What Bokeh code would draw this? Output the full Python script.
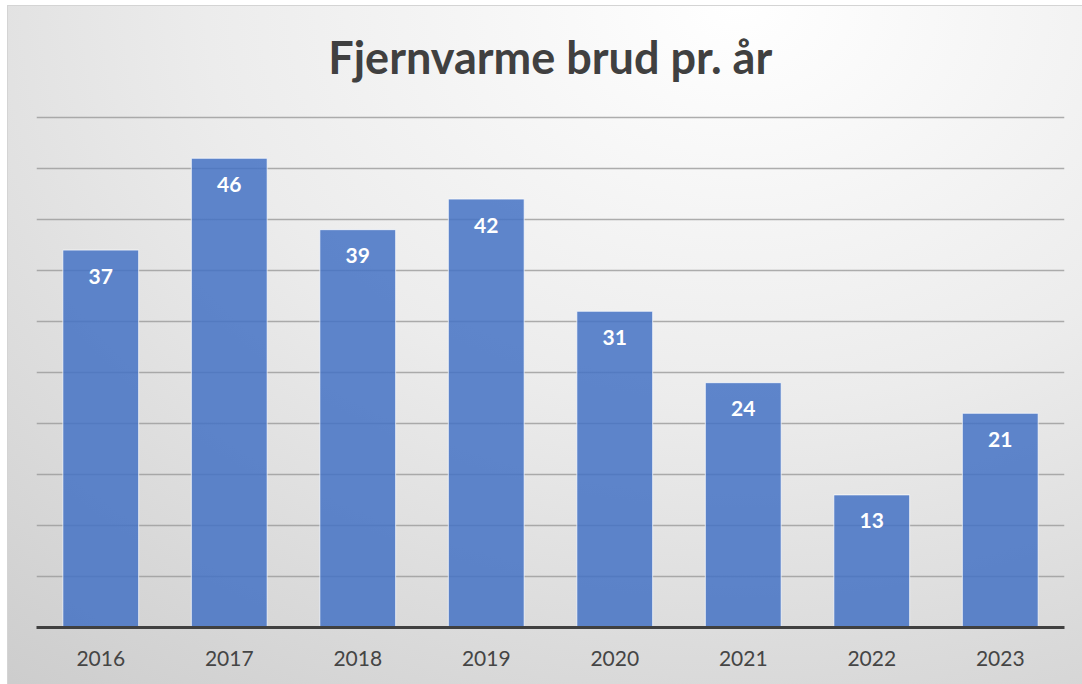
from bokeh.plotting import figure
from bokeh.models import FactorRange, Range1d, FixedTicker, ColumnDataSource
from bokeh.core.properties import value
from bokeh.embed import file_html
from bokeh.resources import INLINE

years = ["2016", "2017", "2018", "2019", "2020", "2021", "2022", "2023"]
breaks = [37, 46, 39, 42, 31, 24, 13, 21]
title_text = "Fjernvarme brud pr. år"
grid_ticks = [5, 10, 15, 20, 25, 30, 35, 40, 45, 50]

src = ColumnDataSource(dict(x=years, top=breaks, label=[str(v) for v in breaks]))

p = figure(width=1075, height=679, output_backend="svg", toolbar_location=None,
           x_range=FactorRange(*years, range_padding=0),
           y_range=Range1d(0, 60.88),
           min_border_left=28, min_border_right=19, min_border_top=0, min_border_bottom=58)

p.styles = {"background": "radial-gradient(ellipse 110% 130% at 68% 0%, #ffffff 0%, #ececec 45%, #cccccc 100%)",
            "margin-left": "7px", "margin-top": "5px",
            "border-top": "1px solid #d4d4d4", "border-left": "1px solid #d4d4d4"}
p.background_fill_color = None
p.border_fill_color = None
p.outline_line_color = None

p.vbar(x="x", top="top", width=0.59, source=src, fill_color="#4472C4", fill_alpha=0.85,
       line_color="white", line_alpha=0.7, line_width=1)

p.text(x="x", y="top", text="label", source=src, y_offset=26, text_align="center",
       text_baseline="middle", text_color="white", text_font=value("Lato"),
       text_font_style="bold", text_font_size="21px")

p.text(x=[years[3]], y=[55.9], text=[title_text], x_offset=64, text_align="center",
       text_baseline="middle", text_color="#404040", text_font=value("Lato"),
       text_font_style="bold", text_font_size="45px")

p.yaxis.visible = False
p.xgrid.grid_line_color = None
p.ygrid.ticker = FixedTicker(ticks=grid_ticks)
p.ygrid.grid_line_color = "#9a9a9a"
p.ygrid.grid_line_width = 1.5
p.ygrid.grid_line_alpha = 0.8

ax = p.xaxis[0]
ax.axis_line_color = "#404040"
ax.axis_line_width = 3
ax.major_tick_line_color = None
ax.minor_tick_line_color = None
ax.major_label_text_font = "Lato"
ax.major_label_text_font_size = "21px"
ax.major_label_text_color = "#454545"
ax.major_label_standoff = 17

open("out.html", "w").write(file_html(p, INLINE))
